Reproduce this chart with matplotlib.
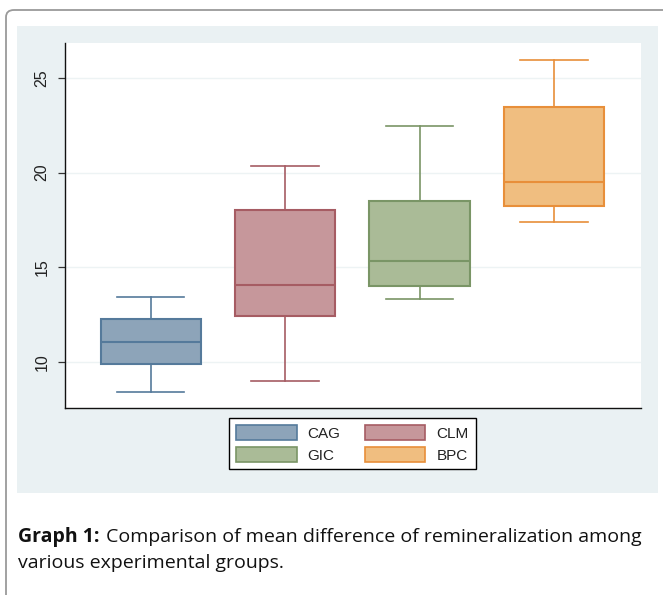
import matplotlib
matplotlib.use("Agg")
import matplotlib.pyplot as plt
from matplotlib.patches import Rectangle, FancyBboxPatch, Patch

groups = ["CAG", "CLM", "GIC", "BPC"]
whislo = [8.42, 9.0, 13.33, 17.38]
q1 = [9.88, 12.43, 14.01, 18.25]
med = [11.04, 14.06, 15.33, 19.52]
q3 = [12.24, 18.04, 18.47, 23.48]
whishi = [13.43, 20.34, 22.48, 25.93]
yticks = [10, 15, 20, 25]

fills = ["#8DA4B9", "#C6979B", "#AABB97", "#F0BE80"]
edges = ["#557A9B", "#A65C63", "#7A9566", "#E88F3A"]

W, H = 663, 595
fig = plt.figure(figsize=(W / 100, H / 100), dpi=100)
fig.patch.set_facecolor("white")

def fx(px):
    return px / W

def fy(py):
    return 1 - py / H

# outer frame (rounded, clipped at right/bottom)
frame = FancyBboxPatch((fx(6), fy(640)), fx(700), fy(10) - fy(640),
                       boxstyle="round,pad=0,rounding_size=0.012",
                       transform=fig.transFigure, facecolor="none",
                       edgecolor="#9a9a9a", linewidth=1.3, zorder=-2)
fig.patches.append(frame)

# light panel
panel = Rectangle((fx(17), fy(493)), fx(658) - fx(17), fy(26) - fy(493),
                  transform=fig.transFigure, facecolor="#EAF1F3",
                  edgecolor="none", zorder=-1)
fig.patches.append(panel)

ax = fig.add_axes([fx(65), fy(408), fx(641) - fx(65), fy(43) - fy(408)])
ax.set_zorder(1)
ax.set_facecolor("white")

stats = []
for i, g in enumerate(groups):
    stats.append(dict(label=g, whislo=whislo[i], q1=q1[i], med=med[i],
                      q3=q3[i], whishi=whishi[i], fliers=[]))

positions = list(range(1, len(groups) + 1))
bp = ax.bxp(stats, positions=positions, widths=0.744, patch_artist=True,
            showfliers=False, capwidths=0.5)
for i in range(len(groups)):
    box = bp["boxes"][i]
    box.set_facecolor(fills[i])
    box.set_edgecolor(edges[i])
    box.set_linewidth(1.5)
    bp["medians"][i].set_color(edges[i])
    bp["medians"][i].set_linewidth(1.5)
    for j in (2 * i, 2 * i + 1):
        bp["whiskers"][j].set_color(edges[i])
        bp["whiskers"][j].set_linewidth(1.2)
        bp["caps"][j].set_color(edges[i])
        bp["caps"][j].set_linewidth(1.2)

ax.set_xlim(0.364, 4.647)
ax.set_ylim(7.55, 26.85)
ax.set_yticks(yticks)
ax.set_yticklabels([str(t) for t in yticks], rotation=90, va="center",
                   fontsize=11.5, family="Liberation Sans", color="#222222")
ax.set_xticks([])
ax.yaxis.grid(True, color="#EDF3F4", linewidth=1.0)
ax.set_axisbelow(True)
for s in ("top", "right"):
    ax.spines[s].set_visible(False)
for s in ("left", "bottom"):
    ax.spines[s].set_color("#111111")
    ax.spines[s].set_linewidth(1.0)
ax.tick_params(axis="y", direction="out", length=5, width=0.9,
               color="#333333", pad=6)

handles = [Patch(facecolor=fills[i], edgecolor=edges[i], linewidth=1.2,
                 label=groups[i]) for i in range(len(groups))]
order = [0, 2, 1, 3]
leg = fig.legend([handles[k] for k in order], [groups[k] for k in order],
                 ncol=2, loc="upper center",
                 bbox_to_anchor=(fx(352.5), fy(418)),
                 bbox_transform=fig.transFigure, borderaxespad=0,
                 frameon=True, fancybox=False, edgecolor="black",
                 framealpha=1.0, facecolor="white",
                 handlelength=3.95, handleheight=1.15, handletextpad=0.72,
                 columnspacing=1.6, labelspacing=0.4, borderpad=0.45,
                 prop={"family": "Liberation Sans", "size": 11})
leg.get_frame().set_linewidth(1.0)
for t in leg.get_texts():
    t.set_color("#222222")

# caption
cap_size = 14.0
t1 = fig.text(fx(18), fy(542), "Graph 1:", fontsize=cap_size,
              fontweight="bold", family="Open Sans", color="#111111",
              va="baseline")
fig.canvas.draw()
r = fig.canvas.get_renderer()
bb = t1.get_window_extent(r)
fig.text(bb.x1 / W + fx(7), fy(542),
         "Comparison of mean difference of remineralization among",
         fontsize=cap_size, family="Open Sans", color="#111111",
         va="baseline")
fig.text(fx(18), fy(568), "various experimental groups.", fontsize=cap_size,
         family="Open Sans", color="#111111", va="baseline")

fig.savefig("out.png", dpi=100)
